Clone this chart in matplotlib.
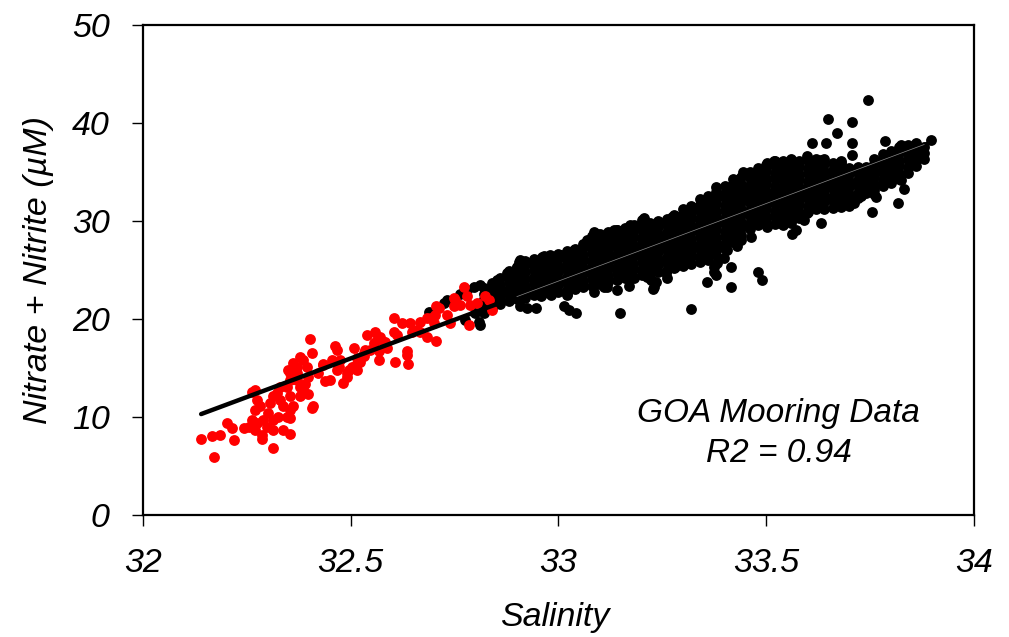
import numpy as np
import matplotlib
matplotlib.use("Agg")
import matplotlib.pyplot as plt

plt.rcParams['font.family'] = ['Liberation Sans', 'DejaVu Sans']
plt.rcParams['font.style'] = 'italic'

# --- data (salinity, nitrate+nitrite uM) ---
red_pts = [
    (32.139, 7.8), (32.170, 5.9), (32.165, 8.1), (32.186, 8.2), (32.202, 9.4),
    (32.214, 8.9), (32.218, 7.7), (32.243, 8.9), (32.254, 9.0), (32.286, 8.2),
    (32.286, 7.8), (32.313, 6.8), (32.313, 8.7), (32.338, 8.7), (32.354, 8.3),
    (32.270, 12.8), (32.262, 12.6), (32.274, 11.7), (32.282, 11.1), (32.270, 10.7),
    (32.262, 9.7), (32.274, 9.4), (32.290, 9.7), (32.302, 10.4), (32.306, 11.4),
    (32.314, 12.1), (32.322, 12.4), (32.330, 11.7), (32.338, 11.1), (32.326, 10.0),
    (32.314, 9.7), (32.298, 9.0), (32.270, 8.7), (32.346, 13.1), (32.354, 12.1),
    (32.362, 11.1), (32.354, 13.8), (32.370, 13.8), (32.378, 13.1), (32.386, 12.8),
    (32.378, 12.1), (32.354, 10.7), (32.346, 10.0), (32.354, 9.9), (32.330, 13.1),
    (32.370, 14.5), (32.390, 13.4), (32.398, 14.1), (32.394, 15.1), (32.386, 15.8),
    (32.362, 15.5), (32.354, 14.5), (32.370, 15.1), (32.378, 16.1), (32.406, 16.5),
    (32.401, 18.0), (32.410, 11.1), (32.407, 10.9), (32.398, 12.3), (32.463, 17.2),
    (32.467, 16.8), (32.439, 13.7), (32.451, 13.8), (32.481, 13.5), (32.507, 17.0),
    (32.531, 16.5), (32.523, 15.6), (32.515, 14.8), (32.491, 14.5), (32.471, 15.1),
    (32.434, 15.3), (32.422, 14.5), (32.539, 18.4), (32.503, 15.1), (32.491, 14.1),
    (32.513, 15.3), (32.433, 15.4), (32.475, 15.8), (32.467, 14.8), (32.559, 18.7),
    (32.571, 18.2), (32.555, 17.5), (32.531, 16.2), (32.587, 17.0), (32.567, 15.8),
    (32.607, 15.6), (32.639, 15.4), (32.635, 16.7), (32.635, 16.3), (32.603, 20.1),
    (32.623, 19.6), (32.643, 19.6), (32.648, 18.7), (32.667, 18.7), (32.667, 19.7),
    (32.684, 18.2), (32.706, 17.8), (32.692, 20.1), (32.704, 20.4), (32.712, 21.1),
    (32.732, 20.4), (32.740, 19.6), (32.752, 21.9), (32.748, 21.3), (32.764, 21.4),
    (32.772, 23.3), (32.780, 22.3), (32.788, 21.4), (32.804, 21.6), (32.824, 22.3),
    (32.832, 21.9), (32.840, 20.9), (32.784, 19.4), (32.748, 22.1), (32.706, 21.3),
    (32.684, 20.1), (32.700, 19.6), (32.603, 18.7), (32.563, 17.9), (32.579, 17.7),
    (32.567, 16.7), (32.535, 16.8), (32.455, 15.8), (32.495, 14.8), (32.515, 16.0),
    (32.547, 16.8), (32.583, 17.7), (32.611, 18.4), (32.660, 18.9), (32.350, 14.8),
    (32.358, 13.9),
]

# dense part of the black cloud, one column of readings per salinity step
black_col_sal = [
    32.82, 32.84, 32.86, 32.88, 32.90, 32.92, 32.94, 32.96, 32.98, 33.00,
    33.02, 33.04, 33.06, 33.08, 33.10, 33.12, 33.14, 33.16, 33.18, 33.20,
    33.22, 33.24, 33.26, 33.28, 33.30, 33.32, 33.34, 33.36, 33.38, 33.40,
    33.42, 33.44, 33.46, 33.48, 33.50, 33.52, 33.54, 33.56, 33.58, 33.60,
    33.62, 33.64, 33.66, 33.68, 33.70, 33.72, 33.74, 33.76, 33.78, 33.80,
    33.82, 33.84, 33.86, 33.88,
]
black_col_no3 = [
    [20.6, 21.3, 22.0, 22.6, 23.2],
    [21.1, 21.8, 22.4, 23.1, 23.7],
    [21.5, 22.2, 22.9, 23.5, 24.2],
    [21.8, 22.5, 23.1, 23.8, 24.4, 24.9],
    [22.0, 22.6, 23.3, 23.9, 24.6, 25.3],
    [22.1, 22.8, 23.4, 24.1, 24.8, 25.5, 25.9],
    [22.4, 23.0, 23.7, 24.3, 25.0, 25.6, 26.1],
    [22.5, 23.2, 23.8, 24.5, 25.1, 25.8, 26.3],
    [22.7, 23.3, 24.0, 24.6, 25.3, 25.9, 26.5],
    [22.8, 23.5, 24.1, 24.8, 25.4, 26.1, 26.6],
    [23.0, 23.7, 24.3, 25.0, 25.6, 26.2, 26.9],
    [23.1, 23.8, 24.4, 25.1, 25.7, 26.4, 27.1],
    [23.3, 23.9, 24.6, 25.2, 25.9, 26.5, 27.2, 27.7],
    [23.4, 24.1, 24.7, 25.4, 26.0, 26.7, 27.3, 27.9, 28.5],
    [23.6, 24.2, 24.9, 25.5, 26.2, 26.8, 27.5, 28.1, 28.7],
    [23.8, 24.4, 25.1, 25.7, 26.4, 27.0, 27.7, 28.3, 28.9],
    [24.0, 24.7, 25.3, 26.0, 26.6, 27.3, 27.9, 28.5, 29.1],
    [24.2, 24.8, 25.5, 26.1, 26.8, 27.4, 28.1, 28.7, 29.3],
    [24.3, 25.0, 25.6, 26.3, 26.9, 27.6, 28.3, 28.9, 29.5],
    [24.5, 25.1, 25.8, 26.4, 27.1, 27.8, 28.4, 29.1, 29.8],
    [24.6, 25.3, 25.9, 26.6, 27.2, 27.9, 28.6, 29.2, 29.8],
    [24.8, 25.5, 26.1, 26.8, 27.4, 28.1, 28.7, 29.4, 30.0],
    [25.0, 25.7, 26.3, 27.0, 27.6, 28.3, 28.9, 29.6, 30.2],
    [25.3, 25.9, 26.6, 27.2, 27.9, 28.5, 29.2, 29.8, 30.5],
    [25.4, 26.0, 26.7, 27.3, 28.0, 28.6, 29.3, 29.9, 30.6, 31.2],
    [25.6, 26.3, 26.9, 27.6, 28.2, 28.9, 29.5, 30.2, 30.8, 31.5],
    [25.8, 26.4, 27.1, 27.7, 28.4, 29.0, 29.7, 30.3, 31.0, 31.6, 32.2],
    [26.0, 26.7, 27.3, 28.0, 28.6, 29.3, 29.9, 30.6, 31.2, 31.9, 32.5],
    [26.5, 27.1, 27.8, 28.4, 29.1, 29.7, 30.4, 31.0, 31.7, 32.3, 33.0, 33.5],
    [27.1, 27.7, 28.4, 29.0, 29.7, 30.3, 31.0, 31.6, 32.3, 32.9, 33.6],
    [27.9, 28.6, 29.2, 29.9, 30.5, 31.2, 31.8, 32.5, 33.1, 33.8, 34.3],
    [28.6, 29.3, 29.9, 30.6, 31.2, 31.9, 32.5, 33.2, 33.8, 34.5],
    [29.2, 29.8, 30.5, 31.1, 31.8, 32.4, 33.1, 33.7, 34.4, 35.0],
    [29.6, 30.2, 30.9, 31.5, 32.2, 32.8, 33.5, 34.1, 34.8, 35.4],
    [29.9, 30.5, 31.2, 31.8, 32.5, 33.1, 33.8, 34.4, 35.1, 35.7],
    [29.7, 30.4, 31.0, 31.7, 32.3, 33.0, 33.6, 34.3, 34.9, 35.6, 36.1],
    [29.6, 30.3, 30.9, 31.6, 32.2, 32.9, 33.5, 34.2, 34.8, 35.5, 36.1],
    [29.8, 30.5, 31.1, 31.8, 32.4, 33.1, 33.7, 34.4, 35.0, 35.7, 36.3],
    [30.3, 30.9, 31.6, 32.2, 32.9, 33.5, 34.2, 34.8, 35.5, 36.1],
    [30.9, 31.5, 32.2, 32.8, 33.5, 34.1, 34.8, 35.4, 36.1],
    [31.2, 31.8, 32.5, 33.1, 33.8, 34.4, 35.1, 35.7, 36.3],
    [31.2, 31.9, 32.5, 33.2, 33.8, 34.5, 35.1, 35.8, 36.3],
    [31.3, 32.0, 32.6, 33.3, 33.9, 34.6, 35.2, 35.9],
    [31.4, 32.1, 32.7, 33.4, 34.0, 34.7, 35.3, 35.9],
    [31.5, 32.2, 32.8, 33.5, 34.1, 34.8, 35.4],
    [32.3, 32.9, 33.6, 34.2, 34.9, 35.5],
    [32.9, 33.5, 34.2, 34.8, 35.5],
    [33.2, 33.8, 34.5, 35.1, 35.8, 36.3],
    [33.6, 34.2, 34.9, 35.5, 36.2, 36.8],
    [33.9, 34.5, 35.2, 35.8, 36.5, 37.1],
    [34.3, 34.9, 35.6, 36.2, 36.9, 37.5],
    [34.9, 35.5, 36.2, 36.8, 37.5],
    [35.6, 36.2, 36.9, 37.5, 38.0],
    [36.3, 36.9, 37.6],
]

# scattered black points around the dense part
black_pts = [
    (32.908, 21.3), (32.925, 21.1), (32.945, 21.1), (33.013, 21.3), (33.025, 20.9),
    (33.041, 20.6), (33.149, 20.6), (33.169, 23.4), (33.230, 23.3), (33.318, 21.0),
    (33.358, 23.8), (33.378, 24.5), (33.374, 25.3), (33.222, 24.0), (33.258, 24.7),
    (33.278, 25.2), (33.021, 22.4), (33.085, 22.8), (33.117, 23.3), (33.141, 23.0),
    (33.181, 24.2), (33.214, 24.3), (33.230, 23.8), (33.262, 24.2), (33.286, 25.7),
    (33.374, 24.8), (33.416, 23.3), (33.479, 24.8), (33.491, 24.0), (33.463, 28.4),
    (33.439, 28.1), (33.406, 27.0), (33.388, 27.4), (33.414, 25.3), (33.398, 26.2),
    (33.382, 25.7), (33.430, 27.4), (33.085, 28.9), (33.133, 29.1), (33.173, 29.6),
    (33.202, 30.1), (33.274, 30.4), (33.278, 30.6), (33.326, 31.3), (33.382, 32.7),
    (33.206, 30.3), (33.443, 35.0), (33.427, 34.2), (33.503, 35.9), (33.519, 36.1),
    (33.535, 35.7), (33.599, 36.6), (33.631, 36.2), (33.680, 36.1), (33.707, 36.7),
    (33.611, 38.0), (33.643, 38.0), (33.649, 40.4), (33.670, 39.0), (33.706, 40.1),
    (33.706, 38.0), (33.744, 42.3), (33.786, 38.2), (33.896, 38.3), (33.840, 37.8),
    (33.864, 37.1), (33.824, 37.8), (33.563, 28.7), (33.571, 29.1), (33.631, 29.8),
    (33.591, 30.1), (33.599, 30.8), (33.575, 30.4), (33.535, 29.8), (33.503, 29.4),
    (33.712, 31.8), (33.728, 32.5), (33.760, 32.8), (33.754, 30.9), (33.764, 32.4),
    (33.816, 31.8), (33.832, 33.3), (33.824, 34.2), (32.776, 19.9), (32.808, 19.7),
    (32.812, 19.4), (32.800, 20.6), (32.764, 22.6), (32.780, 23.0), (32.796, 23.3),
    (32.812, 23.5), (32.852, 24.0), (32.876, 24.7), (32.900, 25.3), (32.908, 26.0),
    (32.724, 21.6), (32.732, 21.9), (32.688, 20.7), (32.696, 20.4), (32.904, 25.8),
    (32.941, 26.0), (32.965, 26.4), (33.005, 26.5), (33.037, 27.0), (33.069, 28.1),
    (33.093, 28.7), (33.141, 29.1), (33.181, 29.6), (33.204, 30.1), (32.957, 22.3),
    (32.981, 22.4), (33.021, 22.6), (33.109, 23.3), (33.228, 23.1), (33.234, 23.8),
]

# regression line end points
fit_sal = [32.14, 33.89]
fit_no3 = [10.3, 37.9]

red_sal, red_no3 = np.array(red_pts).T
black_sal = np.concatenate([np.full(len(ys), s) for s, ys in zip(black_col_sal, black_col_no3)]
                           + [np.array(black_pts)[:, 0]])
black_no3 = np.concatenate([np.array(ys) for ys in black_col_no3]
                           + [np.array(black_pts)[:, 1]])

fig = plt.figure(figsize=(10.09, 6.37), dpi=100)
ax = fig.add_axes([0.1417, 0.1915, 0.8236, 0.7693])

ax.plot(black_sal, black_no3, 'o', color='black', ms=7.8, mew=0, zorder=2)
ax.plot(red_sal, red_no3, 'o', color='red', ms=7.8, mew=0, zorder=3)
ax.plot(fit_sal, fit_no3, color='black', lw=3.2, solid_capstyle='round', zorder=4)
ax.plot([32.9, fit_sal[1] - 0.01], [10.3 + (37.9 - 10.3) * (32.9 - 32.14) / 1.75, 37.8],
        color='#8a8a8a', lw=0.5, zorder=5)

ax.set_xlim(32, 34)
ax.set_ylim(0, 50)
ax.set_xticks([32, 32.5, 33, 33.5, 34])
ax.set_xticklabels(['32', '32.5', '33', '33.5', '34'])
ax.set_yticks([0, 10, 20, 30, 40, 50])
ax.tick_params(direction='out', length=8, width=1, labelsize=24.5, pad=16,
               top=False, right=False)
for sp in ax.spines.values():
    sp.set_linewidth(1.6)

ax.set_xlabel('Salinity', fontsize=24.5)
ax.xaxis.label.set_va('center')
ax.xaxis.set_label_coords(0.496, -0.21)
ax.set_ylabel('Nitrate + Nitrite (\u00b5M)', fontsize=24.5)
ax.yaxis.label.set_va('center')
ax.yaxis.set_label_coords(-0.126, 0.5)

ax.text(0.765, 0.190, 'GOA Mooring Data', transform=ax.transAxes,
        ha='center', va='baseline', fontsize=24)
ax.text(0.765, 0.109, 'R2 = 0.94', transform=ax.transAxes,
        ha='center', va='baseline', fontsize=24)

fig.savefig('out.png', dpi=100)
